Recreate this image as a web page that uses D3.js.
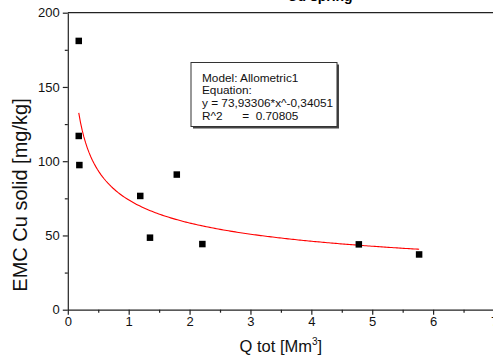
<!DOCTYPE html>
<html>
<head>
<meta charset="utf-8">
<script src="https://cdn.jsdelivr.net/npm/d3@7"></script>
<style>
  html, body { margin: 0; padding: 0; background: #fff; }
  svg { display: block; font-family: "Liberation Sans", Arial, sans-serif; }
</style>
</head>
<body>
<svg id="chart" width="493" height="357"></svg>
<script>
// Measured samples: total discharge vs. event mean concentration of Cu (solid phase)
const qTot  = [0.18, 0.18, 0.19, 1.19, 1.35, 1.79, 2.21, 4.78, 5.77];
const emcCu = [181, 117, 97.4, 76.6, 48.5, 91, 44.2, 44, 37.2];

// Allometric1 fit: y = a * x^b
const fitA = 73.93306;
const fitB = -0.34051;

const xTicks = [0, 1, 2, 3, 4, 5, 6, 7];
const xMinorTicks = [0.5, 1.5, 2.5, 3.5, 4.5, 5.5, 6.5];
const yTicks = [0, 50, 100, 150, 200];
const yMinorTicks = [25, 75, 125, 175];

const chartTitle = "Cu spring";
const xTitle = "Q tot [Mm";
const yTitle = "EMC Cu solid [mg/kg]";
const boxLines = [
  "Model: Allometric1",
  "Equation:",
  "y = 73,93306*x^-0,34051",
  "R^2      =  0.70805"
];

(function () {
  const svg = d3.select("#chart");
  const mLeft = 67.8, mRight = 494, mTop = 12.7, mBottom = 309.7;
  const axisColor = "#222";

  const x = d3.scaleLinear().domain([0, 7]).range([mLeft, mRight]);
  const y = d3.scaleLinear().domain([0, 200]).range([mBottom, mTop]);

  // Title (sits mostly above the visible area)
  svg.append("text")
    .attr("x", 320).attr("y", 1)
    .attr("text-anchor", "middle")
    .attr("font-size", 14).attr("font-weight", "bold")
    .text(chartTitle);

  // Frame: top and right edges
  svg.append("line").attr("x1", mLeft).attr("x2", mRight).attr("y1", mTop).attr("y2", mTop)
    .attr("stroke", axisColor).attr("stroke-width", 1.2);
  svg.append("line").attr("x1", mRight).attr("x2", mRight).attr("y1", mTop).attr("y2", mBottom)
    .attr("stroke", axisColor).attr("stroke-width", 1.2);

  function styleAxis(g) {
    g.selectAll("path, line").attr("stroke", axisColor).attr("stroke-width", 1.2);
    g.selectAll("text").attr("fill", "#111").attr("font-size", 13)
      .attr("font-family", "'Liberation Sans', Arial, sans-serif");
  }

  // X axis
  const gx = svg.append("g").attr("transform", `translate(0,${mBottom})`)
    .call(d3.axisBottom(x).tickValues(xTicks).tickFormat(d3.format("d"))
      .tickSize(5).tickPadding(2).tickSizeOuter(0));
  styleAxis(gx);
  svg.append("g").attr("transform", `translate(0,${mBottom})`)
    .call(d3.axisBottom(x).tickValues(xMinorTicks).tickSize(3).tickFormat("").tickSizeOuter(0))
    .call(g => { g.select(".domain").remove(); styleAxis(g); });

  // Y axis
  const gy = svg.append("g").attr("transform", `translate(${mLeft},0)`)
    .call(d3.axisLeft(y).tickValues(yTicks).tickFormat(d3.format("d"))
      .tickSize(5).tickPadding(3).tickSizeOuter(0));
  styleAxis(gy);
  svg.append("g").attr("transform", `translate(${mLeft},0)`)
    .call(d3.axisLeft(y).tickValues(yMinorTicks).tickSize(3).tickFormat("").tickSizeOuter(0))
    .call(g => { g.select(".domain").remove(); styleAxis(g); });

  // Axis titles
  const xt = svg.append("text")
    .attr("x", (mLeft + mRight) / 2).attr("y", 352)
    .attr("text-anchor", "middle").attr("font-size", 16.5).attr("fill", "#111");
  xt.append("tspan").text(xTitle);
  xt.append("tspan").attr("font-size", 10).attr("dy", -7).text("3");
  xt.append("tspan").attr("dy", 7).text("]");

  svg.append("text")
    .attr("transform", "translate(27,195) rotate(-90)")
    .attr("text-anchor", "middle").attr("font-size", 20).attr("fill", "#111")
    .text(yTitle);

  // Fitted curve over the range of the data
  const xs = d3.extent(qTot);
  const curvePts = d3.range(0, 201).map(i => {
    const q = xs[0] + (xs[1] - xs[0]) * i / 200;
    return [q, fitA * Math.pow(q, fitB)];
  });
  svg.append("path")
    .datum(curvePts)
    .attr("fill", "none").attr("stroke", "#ff0000").attr("stroke-width", 1.1)
    .attr("d", d3.line().x(d => x(d[0])).y(d => y(d[1])));

  // Data points
  const data = qTot.map((q, i) => ({ q, c: emcCu[i] }));
  const sz = 6.5;
  svg.append("g").selectAll("rect").data(data).join("rect")
    .attr("x", d => x(d.q) - sz / 2).attr("y", d => y(d.c) - sz / 2)
    .attr("width", sz).attr("height", sz).attr("fill", "#000");

  // Fit summary box
  const bx = 191, by = 62.5, bw = 146, bh = 64;
  svg.append("rect").attr("x", bx + 2).attr("y", by + 2).attr("width", bw).attr("height", bh)
    .attr("fill", "#444");
  svg.append("rect").attr("x", bx).attr("y", by).attr("width", bw).attr("height", bh)
    .attr("fill", "#fff").attr("stroke", "#333").attr("stroke-width", 1);
  svg.append("g").selectAll("text").data(boxLines).join("text")
    .attr("x", 202).attr("y", (d, i) => 81.5 + i * 12.8)
    .attr("font-size", 11.8).attr("fill", "#111")
    .attr("xml:space", "preserve").style("white-space", "pre")
    .text(d => d);
})();
</script>
</body>
</html>
